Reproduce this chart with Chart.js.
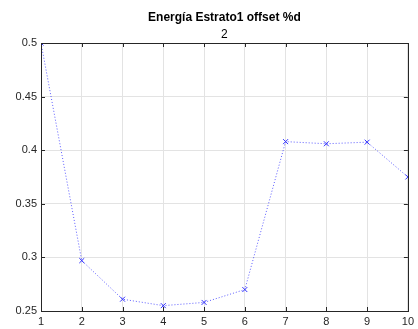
<!DOCTYPE html>
<html>
<head>
<meta charset="utf-8">
<script src="https://cdn.jsdelivr.net/npm/chart.js@4"></script>
<style>
  html, body { margin: 0; padding: 0; background: #fff; }
  #wrap { width: 418px; height: 329px; }
</style>
</head>
<body>
<div id="wrap"><canvas id="plot"></canvas></div>
<script>
const titleText = 'Energía Estrato1 offset %d';
const subtitleText = '2';
const xValues = [1, 2, 3, 4, 5, 6, 7, 8, 9, 10];
const energy = [0.5, 0.297, 0.261, 0.255, 0.258, 0.270, 0.408, 0.406, 0.4075, 0.375];
const yTicks = [0.25, 0.3, 0.35, 0.4, 0.45, 0.5];

const axisColor = '#262626';
const fontFamily = '"Liberation Sans", Arial, sans-serif';

// MATLAB-like box, inward ticks and title centred over the axes
const matlabBox = {
    id: 'matlabBox',
    afterDraw(chart) {
        const { ctx, chartArea: a, scales } = chart;
        ctx.save();
        ctx.strokeStyle = axisColor;
        ctx.lineWidth = 1;
        ctx.strokeRect(Math.round(a.left) + 0.5, Math.round(a.top) + 0.5,
            Math.round(a.right - a.left), Math.round(a.bottom - a.top));
        const t = 4;
        ctx.beginPath();
        scales.x.ticks.forEach(tk => {
            const px = Math.round(scales.x.getPixelForValue(tk.value)) + 0.5;
            ctx.moveTo(px, a.bottom); ctx.lineTo(px, a.bottom - t);
            ctx.moveTo(px, a.top); ctx.lineTo(px, a.top + t);
        });
        scales.y.ticks.forEach(tk => {
            const py = Math.round(scales.y.getPixelForValue(tk.value)) + 0.5;
            ctx.moveTo(a.left, py); ctx.lineTo(a.left + t, py);
            ctx.moveTo(a.right, py); ctx.lineTo(a.right - t, py);
        });
        ctx.stroke();

        const cx = (a.left + a.right) / 2;
        ctx.fillStyle = '#000';
        ctx.textAlign = 'center';
        ctx.textBaseline = 'middle';
        ctx.font = 'bold 12px ' + fontFamily;
        ctx.fillText(titleText, cx, 18);
        ctx.font = '12px ' + fontFamily;
        ctx.fillText(subtitleText, cx, 35);
        ctx.restore();
    }
};

const ctx = document.getElementById('plot');

new Chart(ctx, {
    type: 'line',
    data: {
        datasets: [{
            data: xValues.map((x, i) => ({ x: x, y: energy[i] })),
            borderColor: 'rgba(40, 40, 255, 0.75)',
            borderWidth: 1,
            borderDash: [1, 2],
            tension: 0,
            pointStyle: 'crossRot',
            pointRadius: 3.5,
            pointBorderWidth: 1,
            pointBorderColor: '#3333ff',
            pointBackgroundColor: '#3333ff'
        }]
    },
    options: {
        responsive: true,
        maintainAspectRatio: false,
        animation: false,
        layout: { padding: { top: 43, right: 8, left: 0, bottom: 0 } },
        plugins: {
            legend: { display: false },
            tooltip: { enabled: false }
        },
        scales: {
            x: {
                type: 'linear',
                min: 1,
                max: 10,
                offset: false,
                afterFit: s => { s.height = 18; },
                grid: { color: '#e3e3e3', drawTicks: false },
                border: { display: false },
                ticks: {
                    stepSize: 1,
                    padding: 4,
                    color: axisColor,
                    font: { family: fontFamily, size: 11 },
                    maxRotation: 0
                }
            },
            y: {
                min: 0.25,
                max: 0.5,
                afterFit: s => { s.width = 41; },
                afterBuildTicks: s => { s.ticks = yTicks.map(v => ({ value: v })); },
                grid: { color: '#e3e3e3', drawTicks: false },
                border: { display: false },
                ticks: {
                    padding: 4,
                    color: axisColor,
                    font: { family: fontFamily, size: 11 },
                    callback: v => String(Math.round(v * 100) / 100)
                }
            }
        }
    },
    plugins: [matlabBox]
});
</script>
</body>
</html>
